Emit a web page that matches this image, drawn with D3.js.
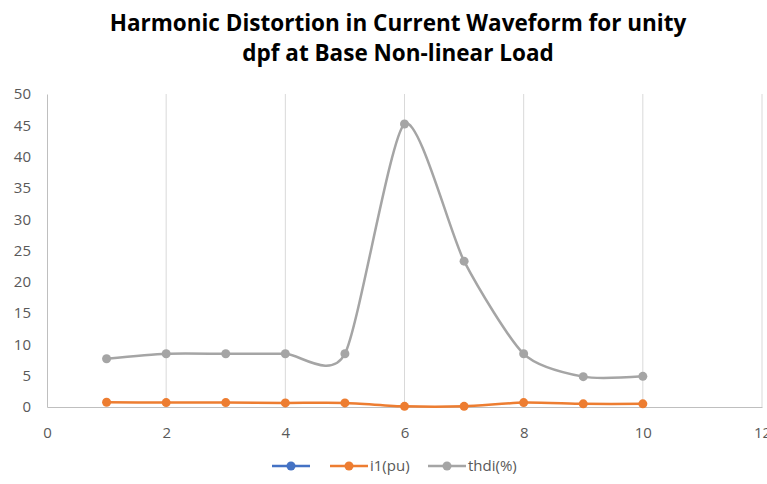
<!DOCTYPE html>
<html>
<head>
<meta charset="utf-8">
<script src="https://cdn.jsdelivr.net/npm/d3@7"></script>
<style>
  body { margin: 0; background: #fff; }
  svg { display: block; }
</style>
</head>
<body>
<div id="chart"></div>
<script>
const width = 767;
const height = 484;

// data
const xValues = [1, 2, 3, 4, 5, 6, 7, 8, 9, 10];
const blank = [];                // first series has no values, only a legend entry
const i1pu = [0.75, 0.7, 0.7, 0.65, 0.65, 0.1, 0.1, 0.7, 0.5, 0.5];
const thdi = [7.7, 8.5, 8.5, 8.5, 8.5, 45.2, 23.3, 8.5, 4.85, 4.9];
const xTicks = [0, 2, 4, 6, 8, 10, 12];
const yTicks = [0, 5, 10, 15, 20, 25, 30, 35, 40, 45, 50];
const titleLines = ["Harmonic Distortion in Current Waveform for unity", "dpf at Base Non-linear Load"];

const series = [
  { name: "", values: blank, color: "#4472C4" },
  { name: "i1(pu)", values: i1pu, color: "#ED7D31" },
  { name: "thdi(%)", values: thdi, color: "#A5A5A5" }
];

const margin = { top: 94, right: 5, bottom: 77, left: 47 };
const font = "'Open Sans', sans-serif";

const svg = d3.select("#chart")
  .append("svg")
  .attr("width", width)
  .attr("height", height)
  .attr("viewBox", [0, 0, width, height]);

const x = d3.scaleLinear().domain([0, 12]).range([margin.left, width - margin.right]);
const y = d3.scaleLinear().domain([0, 50]).range([height - margin.bottom, margin.top]);

// title
svg.append("g")
  .selectAll("text")
  .data(titleLines)
  .join("text")
  .attr("x", 398)
  .attr("y", (d, i) => 31 + i * 30)
  .attr("text-anchor", "middle")
  .attr("font-family", font)
  .attr("font-weight", "bold")
  .attr("font-size", 22.5)
  .attr("fill", "#000")
  .text(d => d);

// vertical gridlines
svg.append("g")
  .selectAll("line")
  .data(xTicks.filter(d => d > 0))
  .join("line")
  .attr("x1", d => x(d)).attr("x2", d => x(d))
  .attr("y1", y(50)).attr("y2", y(0))
  .attr("stroke", "#d9d9d9")
  .attr("stroke-width", 1);

// axes
const xAxis = svg.append("g")
  .attr("transform", `translate(0,${y(0)})`)
  .call(d3.axisBottom(x).tickValues(xTicks).tickSize(0).tickPadding(20));
const yAxis = svg.append("g")
  .attr("transform", `translate(${x(0)},0)`)
  .call(d3.axisLeft(y).tickValues(yTicks).tickSize(0).tickPadding(16));

[xAxis, yAxis].forEach(g => {
  g.select(".domain").attr("stroke", "#bfbfbf").attr("stroke-width", 1);
  g.selectAll("text")
    .attr("font-family", font)
    .attr("font-size", 15)
    .attr("fill", "#595959");
});

// lines + markers
const line = d3.line()
  .x((d, i) => x(xValues[i]))
  .y(d => y(d))
  .curve(d3.curveCardinal.tension(0.3));

series.forEach(s => {
  const g = svg.append("g");
  g.append("path")
    .attr("d", line(s.values))
    .attr("fill", "none")
    .attr("stroke", s.color)
    .attr("stroke-width", 2.5);
  g.selectAll("circle")
    .data(s.values)
    .join("circle")
    .attr("cx", (d, i) => x(xValues[i]))
    .attr("cy", d => y(d))
    .attr("r", 4.5)
    .attr("fill", s.color);
});

// legend
const legendX = [272, 330, 428];
const legend = svg.append("g")
  .selectAll("g")
  .data(series)
  .join("g")
  .attr("transform", (d, i) => `translate(${legendX[i]},466)`);
legend.append("line")
  .attr("x1", 0).attr("x2", 38)
  .attr("stroke", d => d.color)
  .attr("stroke-width", 2.5);
legend.append("circle")
  .attr("cx", 19).attr("r", 4.5)
  .attr("fill", d => d.color);
legend.append("text")
  .attr("x", 40)
  .attr("dy", "0.35em")
  .attr("font-family", font)
  .attr("font-size", 15)
  .attr("fill", "#595959")
  .text(d => d.name);
</script>
</body>
</html>
